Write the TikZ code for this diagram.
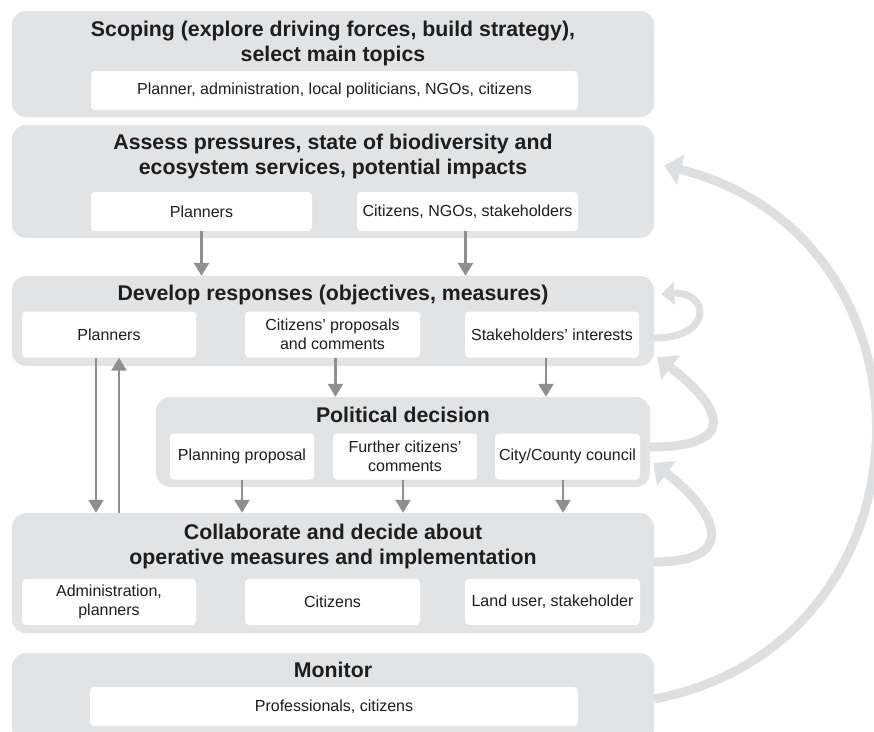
\documentclass[tikz,border=0pt]{standalone}
\usepackage{fontspec}
\setmainfont{Liberation Sans}
\usetikzlibrary{arrows.meta}

\definecolor{panelgray}{HTML}{E2E3E5}
\definecolor{arcgray}{HTML}{DEDFE1}
\definecolor{flowgray}{HTML}{8F8F91}
\definecolor{inkgray}{HTML}{1E1E1E}

\begin{document}
\begin{tikzpicture}[x=1pt,y=-1pt,
	panel/.style={fill=panelgray,rounded corners=14pt,inner sep=0pt},
	role/.style={fill=white,rounded corners=4pt,align=center,inner sep=0pt,text=inkgray,
		font=\fontsize{16}{18.5}\selectfont},
	ttl/.style={align=center,text=inkgray,font=\bfseries\fontsize{21.3}{25}\selectfont},
	flow/.style={draw=flowgray,line width=2.5pt,-{Triangle[length=13pt,width=15pt]}},
	backarc/.style={draw=arcgray,line width=9pt,-{Triangle[length=17pt,width=30pt]}}]
	
	\clip (0,0) rectangle (874,731);
	
	% stages
	\node[panel,minimum width=642pt,minimum height=106pt] (scope) at (333,64) {};
	\node[panel,minimum width=642pt,minimum height=113pt] (assess) at (333,181.5) {};
	\node[panel,minimum width=642pt,minimum height=90pt] (develop) at (333,321) {};
	\node[panel,minimum width=494pt,minimum height=90pt] (politic) at (403,442) {};
	\node[panel,minimum width=642pt,minimum height=120pt] (collab) at (333,573) {};
	\node[panel,minimum width=642pt,minimum height=90pt] (monitor) at (333,698) {};
	
	\node[ttl] (scopettl) at (333,43.5) {Scoping (explore driving forces, build strategy),\\select main topics};
	\node[ttl] (assessttl) at (333,156.5) {Assess pressures, state of biodiversity and\\ecosystem services, potential impacts};
	\node[ttl] (developttl) at (333,295) {Develop responses (objectives, measures)};
	\node[ttl] (politicttl) at (403,415) {Political decision};
	\node[ttl] (collabttl) at (333,546.5) {Collaborate and decide about\\operative measures and implementation};
	\node[ttl] (monitorttl) at (333,670) {Monitor};
	
	% actors
	\node[role,minimum width=487pt,minimum height=39pt] (sall) at (334.5,90.5) {Planner, administration, local politicians, NGOs, citizens};
	
	\node[role,minimum width=221pt,minimum height=39pt] (aplan) at (201.5,211.5) {Planners};
	\node[role,minimum width=221pt,minimum height=39pt] (acit) at (467.5,211.5) {Citizens, NGOs, stakeholders};
	
	\node[role,minimum width=174pt,minimum height=46pt] (dplan) at (109,334.5) {Planners};
	\node[role,minimum width=175pt,minimum height=46pt] (dcit) at (332.5,334.5) {Citizens' proposals\\and comments};
	\node[role,minimum width=174pt,minimum height=46pt] (dstake) at (552,334.5) {Stakeholders' interests};
	
	\node[role,minimum width=144pt,minimum height=46pt] (pprop) at (242,456.5) {Planning proposal};
	\node[role,minimum width=144pt,minimum height=46pt] (pcit) at (405,456.5) {Further citizens'\\comments};
	\node[role,minimum width=145pt,minimum height=46pt] (pcouncil) at (567.5,456.5) {City/County council};
	
	\node[role,minimum width=174pt,minimum height=46pt] (cadmin) at (109,602) {Administration,\\planners};
	\node[role,minimum width=175pt,minimum height=46pt] (ccit) at (332.5,602) {Citizens};
	\node[role,minimum width=175pt,minimum height=46pt] (cland) at (552.5,602) {Land user, stakeholder};
	
	\node[role,minimum width=488pt,minimum height=39pt] (mprof) at (334,706.5) {Professionals, citizens};
	
	% downward flow
	\draw[flow] (aplan.south) -- (aplan.south |- develop.north);
	\draw[flow] ([xshift=-2pt]acit.south) -- ([xshift=-2pt]acit.south |- develop.north);
	\draw[flow] ([xshift=3pt]dcit.south) -- ([xshift=3pt]dcit.south |- politic.north);
	\draw[flow] ([xshift=-6pt]dstake.south) -- ([xshift=-6pt]dstake.south |- politic.north);
	\draw[flow] (pprop.south) -- (pprop.south |- collab.north);
	\draw[flow] ([xshift=-2pt]pcit.south) -- ([xshift=-2pt]pcit.south |- collab.north);
	\draw[flow] ([xshift=-4.5pt]pcouncil.south) -- ([xshift=-4.5pt]pcouncil.south |- collab.north);
	\draw[flow] ([xshift=-13pt]dplan.south) -- ([xshift=-13pt]dplan.south |- collab.north);
	\draw[flow] ([xshift=10pt]dplan.south |- collab.north) -- ([xshift=10pt]dplan.south);
	
	% feedback arcs
	\draw[backarc,line width=7pt,-{Triangle[length=13pt,width=22pt]}] ([yshift=-17pt]develop.east)
		.. controls +(60,0) and +(48,-3) .. ([xshift=7pt,yshift=27pt]develop.east);
	\draw[backarc] ([yshift=-5pt]politic.east)
		.. controls +(90,0) and +(65,50) .. ([xshift=3pt,yshift=9pt]develop.south east);
	\draw[backarc] ([yshift=11pt]collab.east)
		.. controls +(85,0) and +(65,50) .. ([xshift=3pt,yshift=-21pt]politic.east);
	\draw[backarc] ([yshift=-1pt]monitor.east)
		.. controls +(289,-56) and +(285,71) .. ([xshift=10pt,yshift=16pt]assess.east);
	
\end{tikzpicture}
\end{document}
